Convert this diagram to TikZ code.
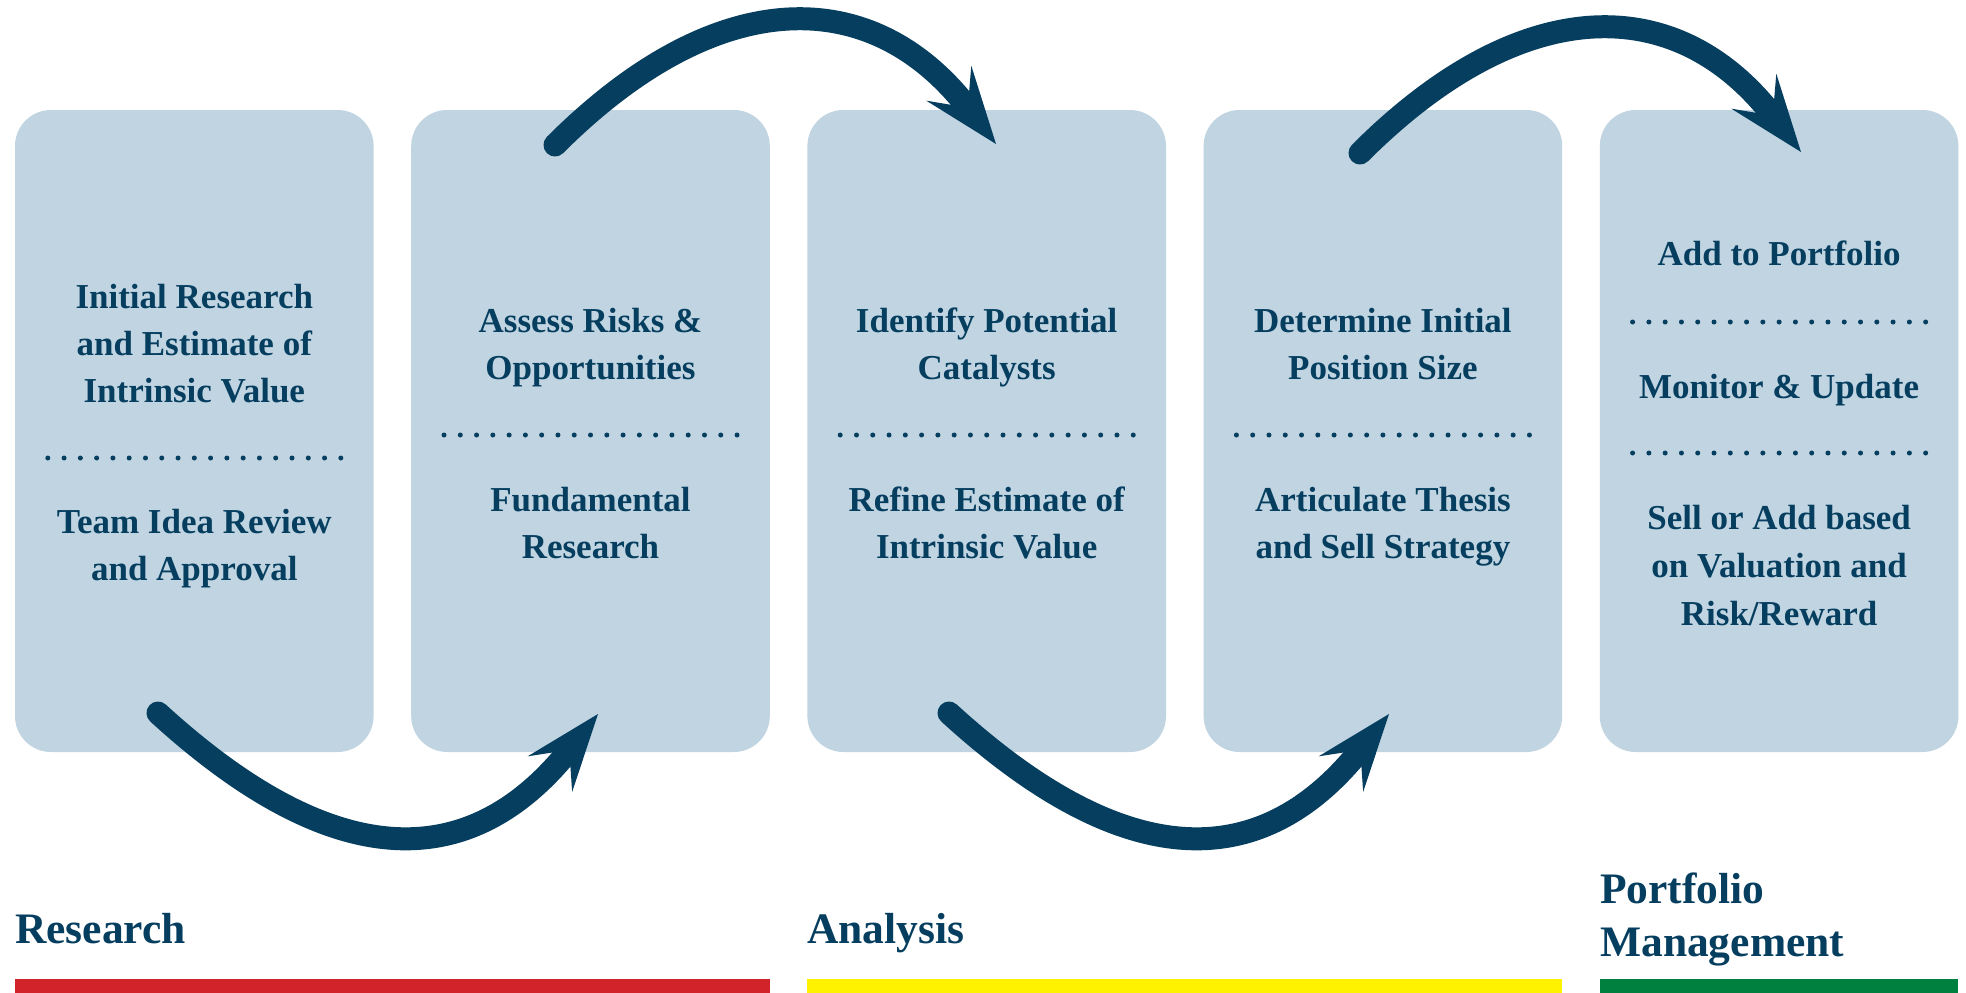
\documentclass[tikz,border=0pt]{standalone}
\usepackage{fontspec}
\setmainfont{Liberation Serif}
\usetikzlibrary{arrows.meta,calc}
\definecolor{boxfill}{HTML}{C0D4E1}
\definecolor{navy}{HTML}{053E5F}
\definecolor{barred}{HTML}{D2232A}
\definecolor{baryellow}{HTML}{FFF200}
\definecolor{bargreen}{HTML}{00803F}
\tikzset{
  stagebox/.style={fill=boxfill, draw=none, rounded corners=36pt, minimum width=358.6pt, minimum height=642pt, inner sep=0pt},
  txt/.style={text=navy, font=\fontsize{35}{47}\selectfont\bfseries, inner sep=0pt, anchor=base},
  phase/.style={text=navy, font=\fontsize{43.5}{54}\selectfont\bfseries, inner sep=0pt, anchor=base west},
  dotsep/.style={draw=navy, line width=5pt, line cap=round, dash pattern=on 0pt off 16.28pt},
  flow/.style={draw=navy, line width=23pt, line cap=round, -{Stealth[length=77pt, width=57pt, inset=31pt, line width=0pt]}},
  bar/.style={draw=none}
}
\begin{document}
\begin{tikzpicture}[x=1pt, y=-1pt]
\useasboundingbox (0,0) rectangle (1966,993);
\fill[white] (0,0) rectangle (1966,993);

% boxes
\node[stagebox] (s1) at (194.3,431) {};
\node[stagebox] (s2) at (590.5,431) {};
\node[stagebox] (s3) at (986.7,431) {};
\node[stagebox] (s4) at (1382.9,431) {};
\node[stagebox] (s5) at (1779.1,431) {};

% box 1
\node[txt] (t1a) at (194.3,308) {Initial Research};
\node[txt] (t1b) at (194.3,355) {and Estimate of};
\node[txt] (t1c) at (194.3,402) {Intrinsic Value};
\draw[dotsep] (194.3-146.5,458) -- (194.3+147,458);
\node[txt] (t1d) at (194.3,533) {Team Idea Review};
\node[txt] (t1e) at (194.3,580) {and Approval};

% box 2
\node[txt] (t2a) at (590.5,332) {Assess Risks \&};
\node[txt] (t2b) at (590.5,379) {Opportunities};
\draw[dotsep] (590.5-146.5,435) -- (590.5+147,435);
\node[txt] (t2c) at (590.5,511) {Fundamental};
\node[txt] (t2d) at (590.5,558) {Research};

% box 3
\node[txt] (t3a) at (986.7,332) {Identify Potential};
\node[txt] (t3b) at (986.7,379) {Catalysts};
\draw[dotsep] (986.7-146.5,435) -- (986.7+147,435);
\node[txt] (t3c) at (986.7,511) {Refine Estimate of};
\node[txt] (t3d) at (986.7,558) {Intrinsic Value};

% box 4
\node[txt] (t4a) at (1382.9,332) {Determine Initial};
\node[txt] (t4b) at (1382.9,379) {Position Size};
\draw[dotsep] (1382.9-146.5,435) -- (1382.9+147,435);
\node[txt] (t4c) at (1382.9,511) {Articulate Thesis};
\node[txt] (t4d) at (1382.9,558) {and Sell Strategy};

% box 5
\node[txt] (t5a) at (1779.1,265) {Add to Portfolio};
\draw[dotsep] (1779.1-146.5,322) -- (1779.1+147,322);
\node[txt] (t5b) at (1779.1,398) {Monitor \& Update};
\draw[dotsep] (1779.1-146.5,453) -- (1779.1+147,453);
\node[txt] (t5c) at (1779.1,529) {Sell or Add based};
\node[txt] (t5d) at (1779.1,577) {on Valuation and};
\node[txt] (t5e) at (1779.1,625) {Risk/Reward};

% arrow end points
\coordinate (a1s) at (158,713);
\coordinate (a1e) at (598,714);
\coordinate (a2s) at (555,145);
\coordinate (a2e) at (996,144);
\coordinate (a3s) at (949,713);
\coordinate (a3e) at (1389,714);
\coordinate (a4s) at (1360,153);
\coordinate (a4e) at (1801,152);

\draw[flow] (a1s) .. controls ($(a1s)+(176,161)$) and ($(a1e)+(-128,160)$) .. (a1e);
\draw[flow] (a2s) .. controls ($(a2s)+(161,-161)$) and ($(a2e)+(-125,-161)$) .. (a2e);
\draw[flow] (a3s) .. controls ($(a3s)+(176,161)$) and ($(a3e)+(-128,160)$) .. (a3e);
\draw[flow] (a4s) .. controls ($(a4s)+(161,-161)$) and ($(a4e)+(-125,-161)$) .. (a4e);

% phase labels
\node[phase] (p1) at (15,943) {Research};
\node[phase] (p2) at (807,943) {Analysis};
\node[phase] (p3a) at (1600,903) {Portfolio};
\node[phase] (p3b) at (1600,956) {Management};

% bars
\fill[barred] (15,979) rectangle (770,993);
\fill[baryellow] (807,979) rectangle (1562,993);
\fill[bargreen] (1600,979) rectangle (1958,993);
\end{tikzpicture}
\end{document}
